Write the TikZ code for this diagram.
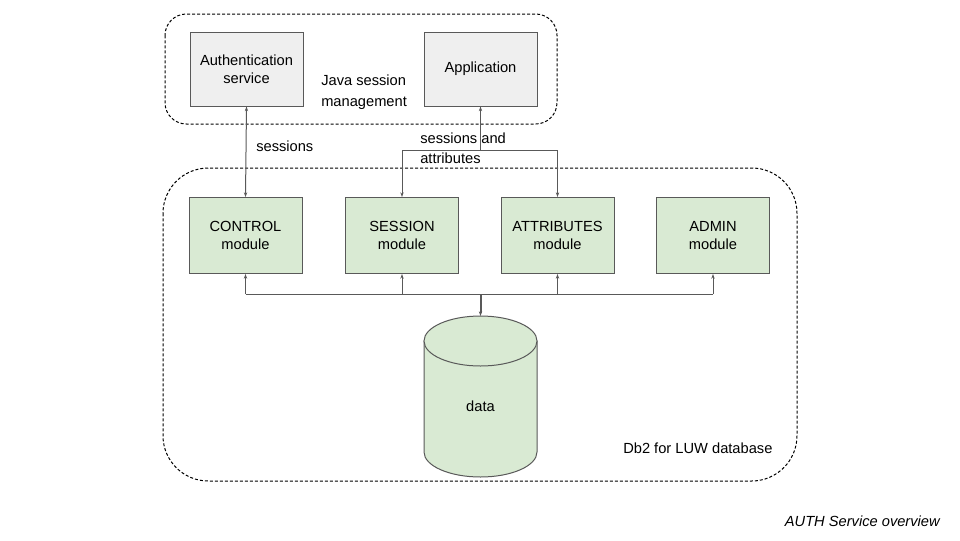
\documentclass[tikz,border=0pt]{standalone}
\usepackage{fontspec}
\setmainfont{Liberation Sans}
\usetikzlibrary{arrows.meta}

\definecolor{borde}{HTML}{595959}
\definecolor{gris}{HTML}{EFEFEF}
\definecolor{verde}{HTML}{D9EAD3}

\begin{document}
\begin{tikzpicture}[x=0.75pt,y=-0.75pt,
    texto/.style={font=\fontsize{11}{13.5}\selectfont,align=center,inner sep=0pt},
    caja/.style={texto,draw=borde,fill=gris,line width=0.75pt,minimum width=84.75pt,minimum height=55.5pt},
    modulo/.style={texto,draw=borde,fill=verde,line width=0.75pt,minimum width=84.75pt,minimum height=57pt},
    base/.style={draw=borde,fill=verde,line width=0.75pt},
    zona/.style={draw=black,line width=0.75pt,dash pattern=on 2.25pt off 1.5pt},
    enlace/.style={draw=borde,line width=0.75pt},
    punta/.style={enlace,-{Stealth[length=3.5pt,width=2.5pt]}},
    doble/.style={enlace,{Stealth[length=3.5pt,width=2.5pt]}-{Stealth[length=3.5pt,width=2.5pt]}}]
    \useasboundingbox (0,0) rectangle (960,540);

    %Zonas punteadas
    \draw[zona,rounded corners=16pt] (165,14) rectangle (557,124);
    \draw[zona,rounded corners=34pt] (163,168) rectangle (797,481);

    \node[caja] (auth) at (246.5,69) {Authentication\\service};
    \node[caja] (app) at (480.5,69) {Application};
    \node[texto,align=left,anchor=west,font=\fontsize{11}{15.75}\selectfont] (java) at (321,92.5) {Java session\\management};

    \node[modulo] (control) at (245.5,235.5) {CONTROL\\module};
    \node[modulo] (session) at (402,235.5) {SESSION\\module};
    \node[modulo] (attr) at (557.5,235.5) {ATTRIBUTES\\module};
    \node[modulo] (admin) at (713,235.5) {ADMIN\\module};

    %Cilindro de datos
    \draw[base] (424,341) -- (424,452) arc (180:360:42.375pt and 18.75pt) -- (537,341) -- cycle;
    \draw[base] (480.5,341) ellipse (42.375pt and 18.75pt);
    \coordinate (tope) at (480.5,316);
    \node[texto] (data) at (480.5,406) {data};

    \node[texto,anchor=west] (db2) at (623,448) {Db2 for LUW database};
    \node[texto,anchor=east,font=\fontsize{11}{13.5}\selectfont\itshape] (titulo) at (940,521) {AUTH Service overview};

    %Sesiones
    \draw[doble] (auth.south) -- (control.north);
    \node[texto,anchor=west] (lblses) at (256,146.5) {sessions};

    %Sesiones y atributos
    \coordinate (split) at (480.5,150);
    \draw[punta] (split) -- (app.south);
    \draw[enlace] (split -| session) -- (split -| attr);
    \draw[punta] (split -| session) -- (session.north);
    \draw[punta] (split -| attr) -- (attr.north);
    \node[texto,align=left,anchor=west,font=\fontsize{11}{15}\selectfont] (lblatt) at (420,148.5) {sessions and\\attributes};

    %Bus hacia los modulos
    \coordinate (bus) at (480.5,294);
    \draw[enlace] (bus -| control) -- (bus -| admin);
    \draw[punta] (bus -| control) -- (control.south);
    \draw[punta] (bus -| session) -- (session.south);
    \draw[punta] (bus -| attr) -- (attr.south);
    \draw[punta] (bus -| admin) -- (admin.south);
    \draw[punta,line width=1.5pt] (bus) -- (tope);

\end{tikzpicture}
\end{document}
